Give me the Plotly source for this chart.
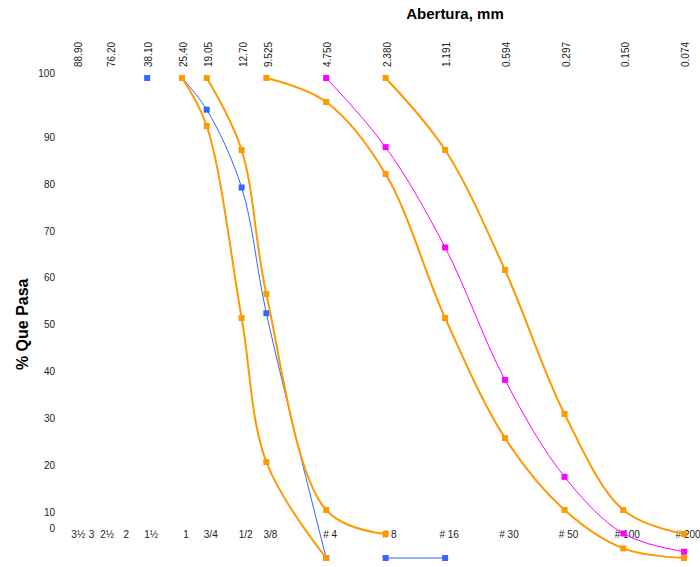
import plotly.graph_objects as go

# ---------------- data ----------------
# sieve openings (mm) and bottom labels (US sieve designations)
bottom_labels = ["3½", "3", "2½", "2", "1½", "1", "3/4", "1/2", "3/8",
                 "# 4", "# 8", "# 16", "# 30", "# 50", "# 100", "# 200"]
bottom_mm = [88.9, 76.2, 63.5, 50.8, 38.1, 25.4, 19.05, 12.7, 9.525,
             4.75, 2.38, 1.191, 0.594, 0.297, 0.15, 0.074]

top_labels = ["88.90", "76.20", "38.10", "25.40", "19.05", "12.70", "9.525",
              "4.750", "2.380", "1.191", "0.594", "0.297", "0.150", "0.074"]
# where each top label sits on the opening axis (mm)
top_mm = [84.0, 57.6, 38.1, 25.4, 19.05, 12.7, 9.525,
          4.75, 2.38, 1.191, 0.594, 0.297, 0.15, 0.074]

y_labels = ["100", "90", "80", "70", "60", "50", "40", "30", "20", "10", "0"]
y_label_pos = [101.0, 87.6, 77.8, 68.1, 58.4, 48.6, 38.8, 29.0, 19.2, 9.5, 6.2]

# sample (blue) - gaps where the line is broken
blue_mm = [38.1, None, 25.4, 19.05, 12.7, 9.525, 4.75, None, 2.38, 1.191]
blue_pct = [100, None, 100, 93.4, 77.2, 51, 0, None, 0, 0]

# coarse aggregate limits (orange)
lim1_mm = [25.4, 19.05, 12.7, 9.525, 4.75]
lim1_pct = [100, 90, 50, 20, 0]
lim2_mm = [19.05, 12.7, 9.525, 4.75, 2.38]
lim2_pct = [100, 85, 55, 10, 5]

# fine aggregate limits (orange)
lim3_mm = [9.525, 4.75, 2.38, 1.191, 0.594, 0.297, 0.15, 0.074]
lim3_pct = [100, 95, 80, 50, 25, 10, 2, 0]
lim4_mm = [2.38, 1.191, 0.594, 0.297, 0.15, 0.074]
lim4_pct = [100, 85, 60, 30, 10, 5]

# sample (magenta)
mag_mm = [4.75, 2.38, 1.191, 0.594, 0.297, 0.15, 0.074]
mag_pct = [100, 85.6, 64.7, 37.1, 16.9, 5.1, 1.3]

ORANGE = "#FF9900"
BLUE = "#3366FF"
MAGENTA = "#FF00FF"
FONT = "Arial, Liberation Sans, sans-serif"

# small visual nudges of label anchors (pixels -> log-axis factor)
PX_PER_DECADE = 198.0
bottom_pos = [m * 10 ** (-4 / PX_PER_DECADE) for m in bottom_mm]
top_pos = top_mm[:2] + [m * 10 ** (-2 / PX_PER_DECADE) for m in top_mm[2:]]

fig = go.Figure()


def add(x, y, color, width):
    fig.add_trace(go.Scatter(
        x=x, y=y, mode="lines+markers",
        line=dict(color=color, width=width, shape="spline", smoothing=1),
        marker=dict(symbol="square", size=6, color=color),
        cliponaxis=False, showlegend=False, hoverinfo="skip",
        connectgaps=False))


add(blue_mm, blue_pct, BLUE, 1)
add(lim1_mm, lim1_pct, ORANGE, 2)
add(lim2_mm, lim2_pct, ORANGE, 2)
add(lim3_mm, lim3_pct, ORANGE, 2)
add(lim4_mm, lim4_pct, ORANGE, 2)
add(mag_mm, mag_pct, MAGENTA, 1)

# dummy trace so the top axis is drawn
fig.add_trace(go.Scatter(x=[25.4], y=[50], xaxis="x2", mode="none",
                         showlegend=False, hoverinfo="skip"))

xrange = [2.021, -1.186]

fig.update_layout(
    width=700, height=567,
    margin=dict(l=60, r=5, t=70, b=2),
    paper_bgcolor="white", plot_bgcolor="white",
    font=dict(family=FONT, size=10, color="#222"),
    title=dict(text="<b>Abertura, mm</b>", x=0.622, xref="paper",
               xanchor="center", y=1 - 14 / 567, yref="container",
               yanchor="middle", font=dict(size=15, color="black", family=FONT)),
    xaxis=dict(type="log", range=xrange, anchor="free", position=0.077,
               side="bottom", tickmode="array", tickvals=bottom_pos,
               ticktext=bottom_labels, showgrid=False, zeroline=False,
               showline=False, ticks="", layer="below traces",
               automargin=False, ticklabeloverflow="allow",
               tickfont=dict(size=10, color="#222")),
    xaxis2=dict(type="log", range=xrange, overlaying="x", side="top",
                anchor="y", tickmode="array", tickvals=top_pos,
                ticktext=top_labels, tickangle=-90, showgrid=False,
                zeroline=False, showline=False, ticks="", automargin=False,
                ticklabelstandoff=2, ticklabeloverflow="allow",
                tickfont=dict(size=10, color="#222")),
    yaxis=dict(range=[-1.46, 101.67], tickmode="array", tickvals=y_label_pos,
               ticktext=y_labels, showgrid=False, zeroline=False,
               showline=False, ticks="", automargin=False,
               ticklabelstandoff=4,
               tickfont=dict(size=10, color="#222")),
    annotations=[dict(text="<b>% Que Pasa</b>", textangle=-90, x=-0.058,
                      y=0.487, xref="paper", yref="paper", showarrow=False,
                      xanchor="center", yanchor="middle",
                      font=dict(size=16, color="black", family=FONT))],
)

fig.write_html("out.html",
               config={"displayModeBar": False},
               post_script="document.body.style.margin='0px';"
                           "document.body.style.overflow='hidden';")
